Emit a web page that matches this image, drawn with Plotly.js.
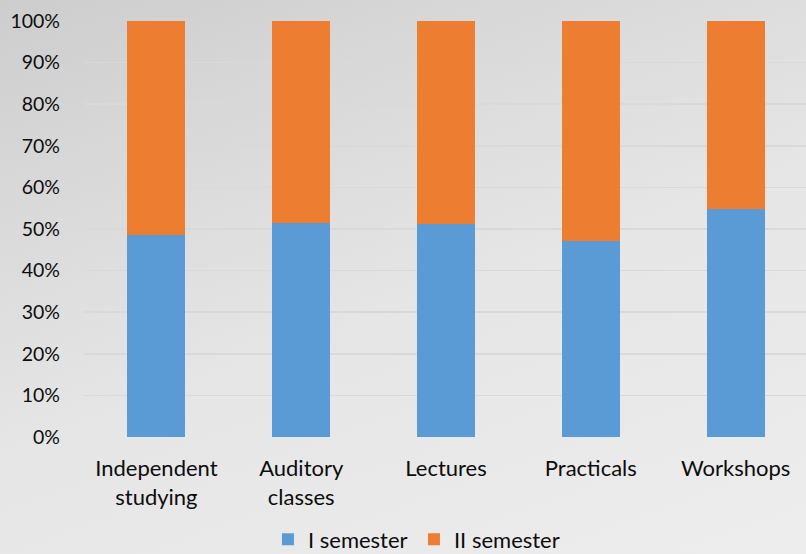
<!DOCTYPE html>
<html>
<head>
<meta charset="utf-8">
<script src="https://cdn.plot.ly/plotly-3.0.1.min.js"></script>
<style>
  html, body { margin: 0; padding: 0; }
  body { width: 806px; height: 554px; overflow: hidden;
         background: linear-gradient(160deg, #cdcdcd 0%, #d9d9d9 25%, #e6e6e6 55%, #ededed 100%); }
  #chart { width: 806px; height: 554px; }
</style>
</head>
<body>
<div id="chart"></div>
<script>
const categories = ["Independent<br>studying", "Auditory<br>classes", "Lectures", "Practicals", "Workshops"];
const semester1 = [48.5, 51.4, 51.3, 47.0, 54.9];
const semester2 = [51.5, 48.6, 48.7, 53.0, 45.1];
const yTickVals = [0, 10, 20, 30, 40, 50, 60, 70, 80, 90, 100];
const yTickText = ["0%", "10%", "20%", "30%", "40%", "50%", "60%", "70%", "80%", "90%", "100%"];

const family = "Lato, 'Open Sans', sans-serif";
const xFont = { family: family, size: 22, color: "#0d0d0d" };
const yFont = { family: family, size: 19.5, color: "#0d0d0d" };

const traces = [
  { type: "bar", name: "I semester", x: categories, y: semester1,
    marker: { color: "#5B9BD5" }, hoverinfo: "none" },
  { type: "bar", name: "II semester", x: categories, y: semester2,
    marker: { color: "#ED7D31" }, hoverinfo: "none" }
];

const layout = {
  width: 806, height: 554,
  barmode: "stack",
  bargap: 0.6,
  paper_bgcolor: "rgba(0,0,0,0)",
  plot_bgcolor: "rgba(0,0,0,0)",
  font: xFont,
  margin: { l: 84, r: 0, t: 21, b: 117, autoexpand: false },
  xaxis: { type: "category", range: [-0.5, 4.486], showgrid: false, zeroline: false,
           showline: false, ticks: "", tickfont: xFont, ticklabelstandoff: 16 },
  yaxis: { range: [0, 100], tickvals: yTickVals, ticktext: yTickText, showgrid: true,
           gridcolor: "#d9d9d9", gridwidth: 1.5, zeroline: false, showline: false,
           ticks: "", tickfont: yFont, ticklabelstandoff: 23 },
  showlegend: true,
  legend: { orientation: "h", x: 0.457, xref: "paper", xanchor: "center", y: -0.246, yanchor: "middle",
            font: xFont, traceorder: "normal", itemwidth: 30,
            entrywidth: 101, entrywidthmode: "pixels" }
};

Plotly.newPlot("chart", traces, layout, { staticPlot: true, displayModeBar: false });
</script>
</body>
</html>
